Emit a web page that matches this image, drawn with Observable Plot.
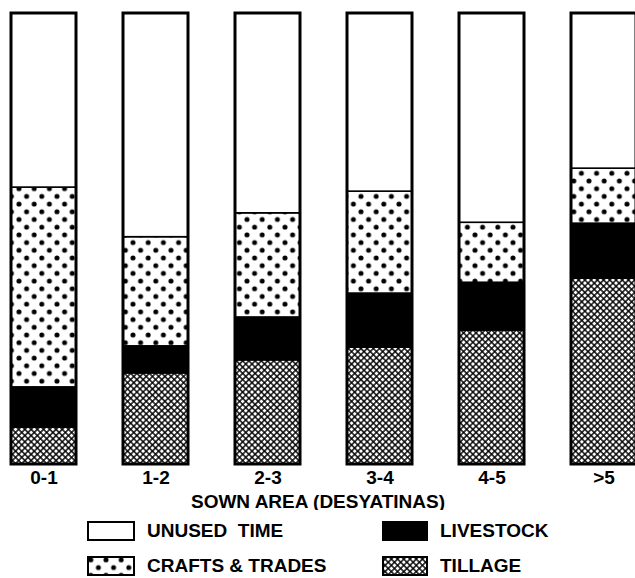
<!DOCTYPE html>
<html>
<head>
<meta charset="utf-8">
<script src="https://cdn.jsdelivr.net/npm/d3@7"></script>
<script src="https://cdn.jsdelivr.net/npm/@observablehq/plot@0.6"></script>
<style>
html, body { margin: 0; padding: 0; background: #fff; overflow: hidden; }
#wrap { position: relative; width: 635px; overflow: hidden; }
#chart svg { display: block; overflow: hidden; }
#chart svg text { font-size: 19px !important; font-weight: bold !important; }
#defs { position: absolute; width: 0; height: 0; }
.legend { position: relative; width: 635px; height: 68px; font-family: "Liberation Sans", Arial, sans-serif; font-weight: bold; font-size: 19px; color: #000; }
.item { position: absolute; display: flex; align-items: center; white-space: pre; }
.item svg { display: block; margin-right: 12px; }
</style>
</head>
<body>
<svg id="defs" aria-hidden="true">
  <defs>
    <pattern id="dots" patternUnits="userSpaceOnUse" width="15.2" height="15.4">
      <rect width="15.2" height="15.4" fill="#fff"/>
      <circle cx="3.8" cy="3.85" r="2.5" fill="#000"/>
      <circle cx="11.4" cy="11.55" r="2.5" fill="#000"/>
    </pattern>
    <pattern id="hatch" patternUnits="userSpaceOnUse" width="4.4" height="4.4" patternTransform="rotate(45)">
      <rect width="4.4" height="4.4" fill="#000"/>
      <rect x="0.7" y="0.7" width="3.0" height="3.0" fill="#fff"/>
    </pattern>
  </defs>
</svg>
<div id="wrap">
  <div id="chart"></div>
  <div class="legend" id="legend"></div>
</div>
<script>
// ---- data (percent of labour time) ----
const categories = ["0-1", "1-2", "2-3", "3-4", "4-5", ">5"];
const seriesNames = ["TILLAGE", "LIVESTOCK", "CRAFTS & TRADES", "UNUSED TIME"];
const tillage   = [8.2, 20.2, 23.1, 25.9, 29.7, 41.2];
const livestock = [8.9,  6.0,  9.5, 12.0, 10.6, 12.2];
const crafts    = [44.3, 24.2, 23.1, 22.6, 13.3, 12.2];
const unused    = [38.6, 49.6, 44.3, 39.5, 46.4, 34.4];
const fills = {
  "TILLAGE": "url(#hatch)",
  "LIVESTOCK": "#000",
  "CRAFTS & TRADES": "url(#dots)",
  "UNUSED TIME": "#fff"
};

const seriesValues = [tillage, livestock, crafts, unused];
const data = [];
categories.forEach((c, i) => {
  seriesNames.forEach((s, j) => data.push({cat: c, series: s, value: seriesValues[j][i]}));
});

const plot = Plot.plot({
  width: 635,
  height: 510,
  marginTop: 13,
  marginBottom: 46,
  marginLeft: 0,
  marginRight: 0,
  style: {fontFamily: "'Liberation Sans', Arial, sans-serif", fontWeight: "bold", fontSize: "19px", color: "#000", background: "#fff"},
  x: {domain: categories, range: [0, 646], paddingInner: 0.42, paddingOuter: 0.07, axis: null},
  y: {domain: [0, 100], axis: null},
  marks: [
    Plot.barY(data, Plot.stackY({x: "cat", y: "value", fill: d => fills[d.series], stroke: "#000", strokeWidth: 1.6})),
    Plot.barY(data, Plot.groupX({y: "sum"}, {x: "cat", y: "value", fill: "none", stroke: "#000", strokeWidth: 3})),
    Plot.axisX({tickSize: 0, tickPadding: 6, fontSize: 19, fontWeight: "bold", label: "SOWN AREA (DESYATINAS)", labelAnchor: "center", labelOffset: 43})
  ]
});
document.getElementById("chart").appendChild(plot);

// ---- legend ----
const legendItems = [
  {name: "UNUSED  TIME", key: "UNUSED TIME", left: 87, top: 10, w: 48},
  {name: "LIVESTOCK", key: "LIVESTOCK", left: 382, top: 10, w: 46},
  {name: "CRAFTS & TRADES", key: "CRAFTS & TRADES", left: 87, top: 45, w: 48},
  {name: "TILLAGE", key: "TILLAGE", left: 382, top: 45, w: 46}
];
const legend = d3.select("#legend");
legendItems.forEach(it => {
  const div = legend.append("div").attr("class", "item")
    .style("left", it.left + "px").style("top", it.top + "px");
  const sw = div.append("svg").attr("width", it.w).attr("height", 20);
  sw.append("rect").attr("x", 1).attr("y", 1).attr("width", it.w - 2).attr("height", 18)
    .attr("fill", fills[it.key]).attr("stroke", "#000").attr("stroke-width", 2);
  div.append("span").text(it.name);
});
</script>
</body>
</html>
